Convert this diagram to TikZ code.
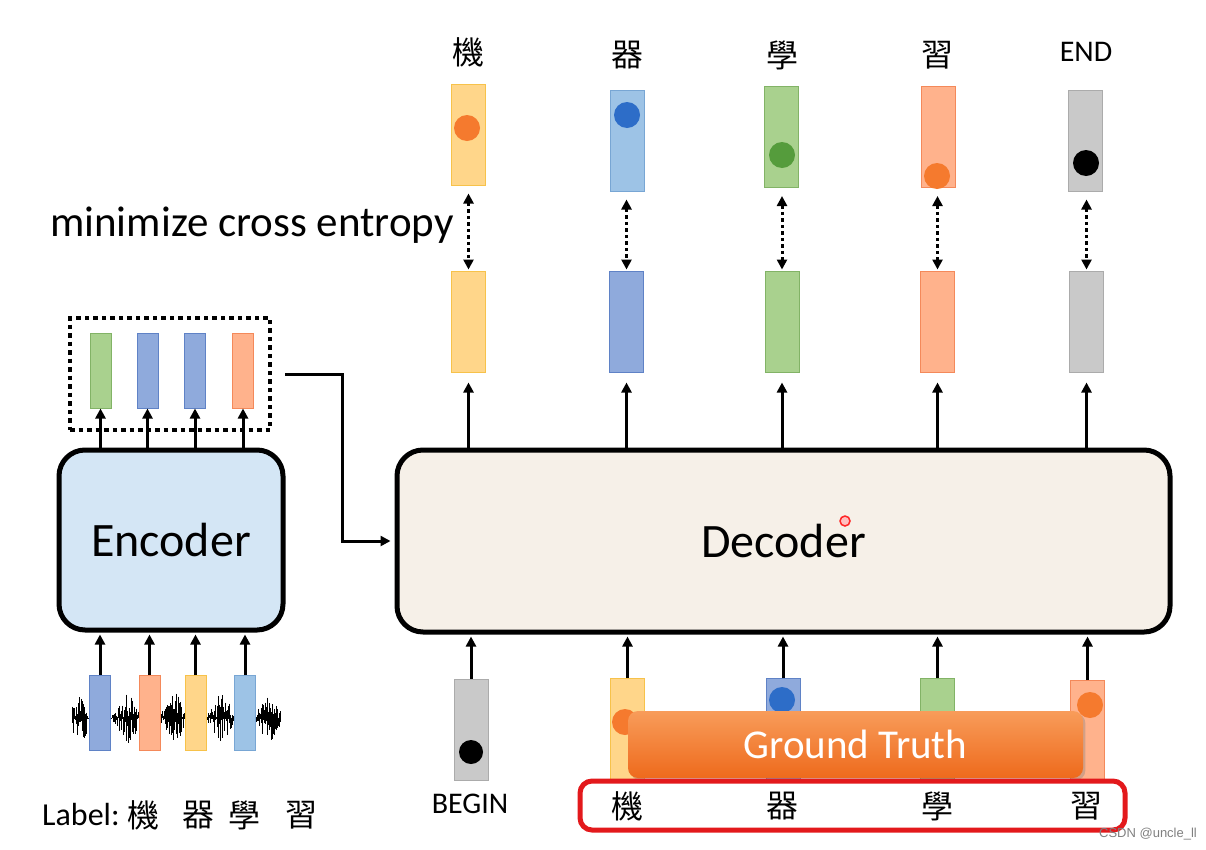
\documentclass[tikz,border=0pt]{standalone}
\usepackage{fontspec}
\setmainfont{Carlito}
\newfontfamily\cjk{Noto Sans CJK TC}
\newfontfamily\wmfont{Liberation Sans}
\usetikzlibrary{arrows.meta,shadows}
\definecolor{vYellow}{HTML}{FFD68A}\definecolor{bYellow}{HTML}{F7C24A}
\definecolor{vBlue}{HTML}{9DC3E6}\definecolor{bBlue}{HTML}{78A6D4}
\definecolor{vDBlue}{HTML}{8FAADC}\definecolor{bDBlue}{HTML}{5F82C6}
\definecolor{vGreen}{HTML}{A9D18E}\definecolor{bGreen}{HTML}{82B366}
\definecolor{vSalmon}{HTML}{FFB28C}\definecolor{bSalmon}{HTML}{F4895A}
\definecolor{vGray}{HTML}{C9C9C9}\definecolor{bGray}{HTML}{ABABAB}
\definecolor{dOrange}{HTML}{F57A2E}
\definecolor{dBlue}{HTML}{2D6DC8}
\definecolor{dGreen}{HTML}{559C3C}
\definecolor{decFill}{HTML}{F6F0E8}
\definecolor{encFill}{HTML}{D4E6F5}
\definecolor{gtTop}{HTML}{F89C5A}
\definecolor{gtBottom}{HTML}{EE6A1C}
\definecolor{truthRed}{HTML}{E3191C}
\tikzset{
	vec/.style={rectangle, inner sep=0pt, line width=1pt, minimum width=34pt, minimum height=101pt, fill=v#1, draw=b#1},
	smallvec/.style={vec=#1, minimum width=21pt, minimum height=75pt},
	block/.style={draw, line width=5pt, rounded corners=26pt, inner sep=0pt, font=\fontsize{48}{48}\selectfont},
	arr/.style={line width=3pt, -{Triangle[length=10pt,width=10pt]}},
	dotarr/.style={line width=3pt, dash pattern=on 3.5pt off 3pt, {Triangle[length=10pt,width=10pt]}-{Triangle[length=10pt,width=10pt]}},
	tok/.style={font=\cjk\fontsize{32}{32}\selectfont, inner sep=0pt},
	word/.style={font=\fontsize{30}{30}\selectfont, inner sep=0pt},
	dot/.style={circle, inner sep=0pt, minimum size=26pt, fill=#1}
}
\begin{document}
\begin{tikzpicture}[x=1pt,y=-1pt]
	\useasboundingbox (0,0) rectangle (1206,849);
	% decoder outputs and targets
	\node[vec=Yellow] (o1) at (468,134.5) {};
	\node[vec=Blue] (o2) at (627.5,140.5) {};
	\node[vec=Green] (o3) at (781.5,137) {};
	\node[vec=Salmon] (o4) at (938,137) {};
	\node[vec=Gray] (o5) at (1085.5,140.5) {};
	\node[dot=dOrange] (p1) at (467,128) {};
	\node[dot=dBlue] (p2) at (627,115) {};
	\node[dot=dGreen] (p3) at (782,155) {};
	\node[dot=dOrange] (p4) at (937,176) {};
	\node[dot=black] (p5) at (1086,163) {};
	\node[tok] (t1) at (468,52) {機};
	\node[tok] (t2) at (627,55) {器};
	\node[tok] (t3) at (782,55) {學};
	\node[tok] (t4) at (937,55) {習};
	\node[word] (t5) at (1086,52) {END};
	\node[vec=Yellow] (m1) at (468.5,321.5) {};
	\node[vec=DBlue] (m2) at (626.5,321.5) {};
	\node[vec=Green] (m3) at (782,321.5) {};
	\node[vec=Salmon] (m4) at (937.5,321.5) {};
	\node[vec=Gray] (m5) at (1086.5,321.5) {};
	\foreach \i in {1,...,5}
		\draw[dotarr, shorten <=8pt, shorten >=1pt] (o\i.south -| m\i) -- (m\i.north);
	\node[anchor=west, inner sep=0pt, font=\fontsize{43}{43}\selectfont] (loss) at (50,225) {minimize cross entropy};

	% blocks
	\node[block, fill=decFill, minimum width=773pt, minimum height=182pt] (dec) at (783.5,541) {Decoder};
	\node[block, fill=encFill, minimum width=224pt, minimum height=180pt] (enc) at (171,540) {Encoder};
	\node[circle, draw=red!85, fill=pink, line width=1.5pt, minimum size=10pt, inner sep=0pt] (laser) at (845,521) {};
	\foreach \i in {1,...,5}
		\draw[arr, shorten >=10pt] (dec.north -| m\i) -- (m\i.south);

	% encoder outputs
	\node[draw, line width=4pt, dash pattern=on 4.5pt off 4pt, minimum width=200pt, minimum height=112pt] (encout) at (170,374) {};
	\node[smallvec=Green] (e1) at (100.5,370.5) {};
	\node[smallvec=DBlue] (e2) at (147.5,370.5) {};
	\node[smallvec=DBlue] (e3) at (195,370.5) {};
	\node[smallvec=Salmon] (e4) at (243,370.5) {};
	\foreach \i in {1,...,4}
		\draw[arr] (enc.north -| e\i) -- (e\i.south);
	\draw[arr, shorten <=13pt, shorten >=4pt] (encout.east) -- ++(70,0) |- (dec.west);

	% speech input
	\pgfmathsetseed{17}
	\foreach \x in {72,...,280}{
		\pgfmathsetmacro\s{sin(3.83*(\x-57))}
		\pgfmathsetmacro\hu{(2+23*\s*\s*\s*\s)*rnd}
		\pgfmathsetmacro\hd{(2+23*\s*\s*\s*\s)*rnd}
		\draw[line width=0.9pt] (\x,718-\hu) -- (\x,718+\hd);
	}
	\node[smallvec=DBlue] (i1) at (100,713) {};
	\node[smallvec=Salmon] (i2) at (149.5,713) {};
	\node[smallvec=Yellow] (i3) at (195.5,713) {};
	\node[smallvec=Blue] (i4) at (245,713) {};
	\foreach \i in {1,...,4}
		\draw[arr, shorten >=2pt] (i\i.north) -- (i\i.north |- enc.south);
	\node[anchor=west, inner sep=0pt, font=\fontsize{32}{32}\selectfont] (label) at (42,815) {Label:};
	\node[tok] (l1) at (143,815) {機};
	\node[tok] (l2) at (198,815) {器};
	\node[tok] (l3) at (244,815) {學};
	\node[tok] (l4) at (301,815) {習};

	% decoder inputs
	\node[vec=Gray] (b0) at (471,729.5) {};
	\node[dot=black, minimum size=24pt] (q0) at (471,752) {};
	\node[vec=Yellow] (b1) at (627.5,729) {};
	\node[vec=DBlue] (b2) at (783,729) {};
	\node[vec=Green] (b3) at (937.5,729) {};
	\node[vec=Salmon] (b4) at (1087.5,731) {};
	\node[dot=dOrange] (q1) at (625,722) {};
	\node[dot=dBlue] (q2) at (782,700) {};
	\node[dot=dOrange] (q4) at (1090,705) {};
	\foreach \i in {0,...,4}
		\draw[arr, shorten >=2pt] (b\i.north) -- (b\i.north |- dec.south);
	\node[word] (w0) at (470,804) {BEGIN};
	\node[rounded corners=10pt, top color=gtTop, bottom color=gtBottom, text=white, drop shadow={opacity=0.35}, minimum width=455pt, minimum height=67pt, font=\fontsize{41}{41}\selectfont] (gt) at (855.5,744.5) {Ground Truth};
	\node[draw=truthRed, fill=white, line width=5pt, rounded corners=12pt, minimum width=545pt, minimum height=49pt] (truth) at (852.5,805.5) {};
	\node[tok] (g1) at (627,806) {機};
	\node[tok] (g2) at (782,806) {器};
	\node[tok] (g3) at (937,806) {學};
	\node[tok] (g4) at (1086,806) {習};
	\node[text=gray, font=\wmfont\fontsize{13}{13}\selectfont, inner sep=0pt] (mark) at (1148,834) {CSDN @uncle\_ll};
\end{tikzpicture}
\end{document}
